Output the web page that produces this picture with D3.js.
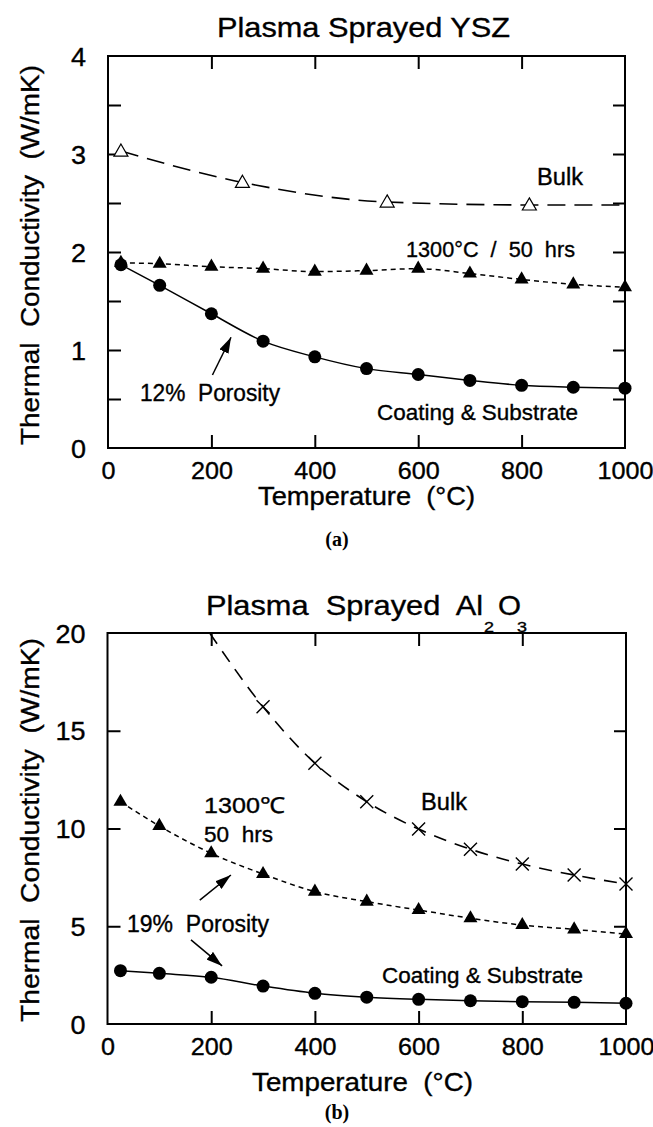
<!DOCTYPE html>
<html>
<head>
<meta charset="utf-8">
<script src="https://cdn.jsdelivr.net/npm/d3@7"></script>
<style>
body { margin: 0; background: #fff; }
svg text { font-family: "Liberation Sans", Arial, sans-serif; fill: #000; white-space: pre; stroke: #000; stroke-width: 0.35px; }
</style>
</head>
<body>
<svg id="fig" width="653" height="1127"></svg>
<script>
// (a) Plasma sprayed YSZ
const tempsA = [25, 100, 200, 300, 400, 500, 600, 700, 800, 900, 1000]
const coatingA = [1.87, 1.66, 1.37, 1.09, 0.93, 0.81, 0.75, 0.69, 0.64, 0.62, 0.61]
const aged1300A = [1.89, 1.88, 1.85, 1.83, 1.80, 1.81, 1.83, 1.78, 1.72, 1.67, 1.64]
const bulkTempsA = [25, 260, 540, 815]
const bulkA = [3.02, 2.70, 2.50, 2.47]
const bulkLineTempsA = [25, 260, 540, 815, 1000]
const bulkLineA = [3.03, 2.71, 2.51, 2.48, 2.48]

// (b) Plasma sprayed Al2O3
const tempsB = [25, 100, 200, 300, 400, 500, 600, 700, 800, 900, 1000]
const coatingB = [2.73, 2.59, 2.39, 1.94, 1.57, 1.37, 1.26, 1.19, 1.14, 1.11, 1.06]
const aged1300B = [11.37, 10.13, 8.73, 7.67, 6.77, 6.26, 5.83, 5.41, 5.06, 4.84, 4.60]
const bulkTempsB = [300, 400, 500, 600, 700, 800, 900, 1000]
const bulkB = [16.23, 13.34, 11.37, 9.97, 8.94, 8.18, 7.62, 7.16]
const bulkLineTempsB = [197, 300, 400, 500, 600, 700, 800, 900, 1000]
const bulkLineB = [20, 16.23, 13.34, 11.37, 9.97, 8.94, 8.18, 7.62, 7.16]

const xTicks = [0, 200, 400, 600, 800, 1000]
const yTicksA = [0, 0.5, 1, 1.5, 2, 2.5, 3, 3.5, 4]
const yTicksB = [0, 5, 10, 15, 20]

const svg = d3.select("#fig")

const defs = svg.append("defs")
defs.append("marker").attr("id", "arrow")
    .attr("viewBox", "0 0 16 10").attr("refX", 16).attr("refY", 5)
    .attr("markerWidth", 16).attr("markerHeight", 10)
    .attr("markerUnits", "userSpaceOnUse").attr("orient", "auto")
    .append("path").attr("d", "M0,0L16,5L0,10Z").attr("fill", "#000")

function zip(ts, vs) { return ts.map((t, i) => ({t: t, v: vs[i]})) }

function drawPanel(cfg) {
    const x = d3.scaleLinear().domain([0, 1000]).range([cfg.left, cfg.right])
    const y = d3.scaleLinear().domain(cfg.yDomain).range([cfg.bottom, cfg.top])
    const g = svg.append("g")

    const clipId = "clip" + cfg.id
    defs.append("clipPath").attr("id", clipId).append("rect")
        .attr("x", cfg.left).attr("y", cfg.top)
        .attr("width", cfg.right - cfg.left).attr("height", cfg.bottom - cfg.top)

    // axes with inward ticks
    const styleAxis = sel => {
        sel.select(".domain").remove()
        sel.selectAll(".tick line").attr("stroke-width", 2)
        sel.selectAll("text").attr("font-size", 24).attr("font-family", "Liberation Sans, Arial, sans-serif")
    }
    const bottom = g.append("g").attr("transform", `translate(0,${cfg.bottom})`)
        .call(d3.axisBottom(x).tickValues(xTicks).tickSizeInner(-13).tickSizeOuter(0).tickFormat(d => String(d)))
    styleAxis(bottom)
    bottom.selectAll(".tick text").attr("y", 31).attr("dy", null)
        .attr("textLength", d => String(d).length * 14).attr("lengthAdjust", "spacingAndGlyphs")
    bottom.selectAll(".tick line").filter(d => d === 0 || d === 1000).remove()

    const topAx = g.append("g").attr("transform", `translate(0,${cfg.top})`)
        .call(d3.axisTop(x).tickValues(xTicks.filter(d => d > 0 && d < 1000)).tickSizeInner(-13).tickSizeOuter(0).tickFormat(""))
    styleAxis(topAx)

    const leftAx = g.append("g").attr("transform", `translate(${cfg.left},0)`)
        .call(d3.axisLeft(y).tickValues(cfg.yTicks).tickSizeInner(-13).tickSizeOuter(0)
            .tickFormat(d => Number.isInteger(d) ? String(d) : ""))
    styleAxis(leftAx)
    leftAx.selectAll(".tick text").attr("x", -22).attr("dy", "0.36em").attr("font-size", 25)
        .attr("textLength", d => Number.isInteger(d) ? String(d).length * 15 : null)
        .attr("lengthAdjust", "spacingAndGlyphs")
    leftAx.selectAll(".tick line").filter(d => d === cfg.yDomain[0] || d === cfg.yDomain[1]).remove()

    const rightAx = g.append("g").attr("transform", `translate(${cfg.right},0)`)
        .call(d3.axisRight(y).tickValues(cfg.yTicks).tickSizeInner(-12).tickSizeOuter(0).tickFormat(""))
    styleAxis(rightAx)
    rightAx.selectAll(".tick line").filter(d => d === cfg.yDomain[0] || d === cfg.yDomain[1]).remove()

    g.append("rect").attr("x", cfg.left).attr("y", cfg.top)
        .attr("width", cfg.right - cfg.left).attr("height", cfg.bottom - cfg.top)
        .attr("fill", "none").attr("stroke", "#000").attr("stroke-width", 2)

    const line = d3.line().x(d => x(d.t)).y(d => y(d.v)).curve(d3.curveMonotoneX)
    const series = g.append("g").attr("clip-path", `url(#${clipId})`)

    series.append("path").attr("d", line(cfg.bulkLine)).attr("fill", "none")
        .attr("stroke", "#000").attr("stroke-width", 1.6).attr("stroke-dasharray", cfg.bulkDash)
    series.append("path").attr("d", line(cfg.aged)).attr("fill", "none")
        .attr("stroke", "#000").attr("stroke-width", 1.5).attr("stroke-dasharray", "5,4")
    series.append("path").attr("d", line(cfg.coating)).attr("fill", "none")
        .attr("stroke", "#000").attr("stroke-width", 1.5)

    const tri = d3.symbol().type(d3.symbolTriangle).size(85)
    g.append("g").selectAll("path").data(cfg.aged).join("path")
        .attr("d", tri).attr("transform", d => `translate(${x(d.t)},${y(d.v)})`).attr("fill", "#000")
    g.append("g").selectAll("circle").data(cfg.coating).join("circle")
        .attr("cx", d => x(d.t)).attr("cy", d => y(d.v)).attr("r", 6.5).attr("fill", "#000")
    if (cfg.bulkMarker === "triangle") {
        g.append("g").selectAll("path").data(cfg.bulk).join("path")
            .attr("d", tri).attr("transform", d => `translate(${x(d.t)},${y(d.v)})`)
            .attr("fill", "#fff").attr("stroke", "#000").attr("stroke-width", 1.2)
    } else {
        g.append("g").selectAll("path").data(cfg.bulk).join("path")
            .attr("d", "M-6.5,-6.5L6.5,6.5M-6.5,6.5L6.5,-6.5")
            .attr("transform", d => `translate(${x(d.t)},${y(d.v)})`)
            .attr("stroke", "#000").attr("stroke-width", 1.4).attr("fill", "none")
    }

    cfg.arrows.forEach(a => {
        g.append("line").attr("x1", x(a[0])).attr("y1", y(a[1])).attr("x2", x(a[2])).attr("y2", y(a[3]))
            .attr("stroke", "#000").attr("stroke-width", 1.5).attr("marker-end", "url(#arrow)")
    })

    // axis titles
    g.append("text").text("Temperature  (°C)").attr("x", cfg.xLabel[0]).attr("y", cfg.xLabel[1])
        .attr("text-anchor", "middle").attr("font-size", 25)
        .attr("textLength", cfg.xLabel[2]).attr("lengthAdjust", "spacingAndGlyphs")
    g.append("text").text("Thermal  Conductivity  (W/mK)")
        .attr("transform", `translate(39,${cfg.yLabel[0]}) rotate(-90)`)
        .attr("text-anchor", "middle").attr("font-size", 26)
        .attr("textLength", cfg.yLabel[1]).attr("lengthAdjust", "spacingAndGlyphs")
    g.append("text").text(cfg.panel).attr("x", 337).attr("y", cfg.panelY)
        .attr("text-anchor", "middle").attr("font-size", 20).attr("font-weight", "bold")
        .style("font-family", "'Liberation Serif', 'Times New Roman', serif").style("stroke-width", "0px")

    cfg.notes.forEach(n => {
        g.append("text").text(n.text).attr("x", n.x).attr("y", n.y).attr("font-size", n.fs || 23)
            .attr("textLength", n.w).attr("lengthAdjust", "spacingAndGlyphs")
    })
}

drawPanel({
    id: "a", left: 108, right: 625, top: 56, bottom: 448, yDomain: [0, 4], yTicks: yTicksA,
    coating: zip(tempsA, coatingA), aged: zip(tempsA, aged1300A),
    bulk: zip(bulkTempsA, bulkA), bulkLine: zip(bulkLineTempsA, bulkLineA),
    bulkMarker: "triangle", bulkDash: "18,9",
    arrows: [[202, 0.745, 238, 1.13]],
    xLabel: [366.5, 505, 217], yLabel: [255, 380], panel: "(a)", panelY: 546,
    notes: [
        {text: "Plasma Sprayed YSZ", x: 217, y: 37, w: 293, fs: 28},
        {text: "Bulk", x: 537, y: 185, w: 46},
        {text: "1300°C  /  50  hrs", x: 406, y: 257, w: 169, fs: 22},
        {text: "12%  Porosity", x: 140, y: 401, w: 140},
        {text: "Coating & Substrate", x: 377, y: 420, w: 201, fs: 22}
    ]
})

drawPanel({
    id: "b", left: 107.5, right: 626, top: 633, bottom: 1024, yDomain: [0, 20], yTicks: yTicksB,
    coating: zip(tempsB, coatingB), aged: zip(tempsB, aged1300B),
    bulk: zip(bulkTempsB, bulkB), bulkLine: zip(bulkLineTempsB, bulkLineB),
    bulkMarker: "x", bulkDash: "13,9",
    arrows: [[178, 6.34, 238, 7.62], [161, 4.3, 221, 2.97]],
    xLabel: [362.5, 1091, 221], yLabel: [830, 384], panel: "(b)", panelY: 1119,
    notes: [
        {text: "Plasma  Sprayed  Al", x: 206, y: 615, w: 277, fs: 28},
        {text: "O", x: 498, y: 615, w: 23, fs: 28},
        {text: "2", x: 484, y: 632, w: 10, fs: 15},
        {text: "3", x: 517, y: 632, w: 10, fs: 15},
        {text: "Bulk", x: 421, y: 810, w: 46},
        {text: "1300℃", x: 204, y: 813, w: 81, fs: 22},
        {text: "50  hrs", x: 204, y: 842, w: 69, fs: 22},
        {text: "19%  Porosity", x: 127, y: 932, w: 142},
        {text: "Coating & Substrate", x: 382, y: 983, w: 201, fs: 22}
    ]
})
</script>
</body>
</html>
